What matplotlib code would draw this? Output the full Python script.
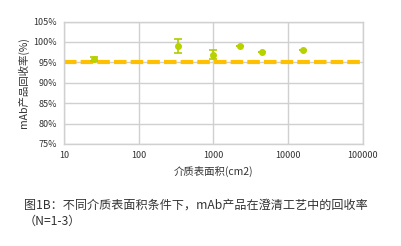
import matplotlib
matplotlib.use("Agg")
import matplotlib.pyplot as plt
from matplotlib.ticker import FixedLocator, FuncFormatter, NullLocator

plt.rcParams['font.family'] = ['Noto Sans CJK SC', 'DejaVu Sans']

# Media surface area (cm2) and recovery (%)
area = [25, 335, 1000, 2265, 4455, 15600]
recovery = [95.9, 99.0, 96.8, 98.95, 97.5, 98.05]
err = [0.5, 1.8, 1.1, 0, 0, 0]
target = 95
xticks = [10, 100, 1000, 10000, 100000]
yticks = [75, 80, 85, 90, 95, 100, 105]

fig = plt.figure(figsize=(4.01, 2.46), dpi=100)
ax = fig.add_axes([64/401, 1-144/246, (363-64)/401, (144-21.5)/246])

ax.set_xscale('log')
ax.set_xlim(10, 100000)
ax.set_ylim(75, 105)
ax.xaxis.set_major_locator(FixedLocator(xticks))
ax.xaxis.set_minor_locator(NullLocator())
ax.xaxis.set_major_formatter(FuncFormatter(lambda v, p: f"{int(round(v))}"))
ax.yaxis.set_major_locator(FixedLocator(yticks))
ax.yaxis.set_major_formatter(FuncFormatter(lambda v, p: f"{int(v)}%"))

ax.grid(True, color='#d0d0d0', linewidth=1.0)
ax.set_axisbelow(True)
for s in ax.spines.values():
    s.set_color('#d0d0d0')
    s.set_linewidth(1.0)
ax.tick_params(length=0, labelsize=6.5, colors='#333333', pad=5)

ax.axhline(target, color='#FFC000', linewidth=3.0, dashes=(3.0, 1.0), zorder=2)

ax.errorbar(area, recovery, yerr=err, fmt='o', color='#B8D200', ecolor='#B0CC00',
            markersize=4, capsize=3, elinewidth=1.2, capthick=1.2, zorder=3)

ax.set_xlabel('介质表面积(cm2)', fontsize=7.5, color='#333333', labelpad=4)
ax.set_ylabel('mAb产品回收率(%)', fontsize=7.5, color='#333333', labelpad=3)

fig.text(24/401, 1-205/246, '图1B：不同介质表面积条件下，mAb产品在澄清工艺中的回收率',
         fontsize=8.7, fontweight='medium', color='#333333', va='center', ha='left')
fig.text(24/401, 1-221/246, '（N=1-3）',
         fontsize=8.7, fontweight='medium', color='#333333', va='center', ha='left')

fig.savefig('out.png', dpi=100)
